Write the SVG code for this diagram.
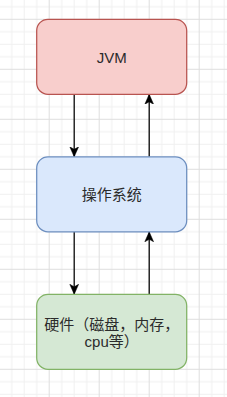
<svg xmlns="http://www.w3.org/2000/svg" width="227" height="397" viewBox="0 0 227 397">
  <defs>
    <pattern id="grid" width="50" height="50" patternUnits="userSpaceOnUse" x="-1.3" y="18.8">
      <rect x="0" y="0" width="50" height="50" fill="#ffffff"/>
      <g fill="#f0f0f0">
        <rect x="12.5" y="0" width="1" height="50"/>
        <rect x="25" y="0" width="1" height="50"/>
        <rect x="37.5" y="0" width="1" height="50"/>
        <rect x="0" y="12.5" width="50" height="1"/>
        <rect x="0" y="25" width="50" height="1"/>
        <rect x="0" y="37.5" width="50" height="1"/>
      </g>
      <g fill="#dedede">
        <rect x="0" y="0" width="1" height="50"/>
        <rect x="0" y="0" width="50" height="1"/>
      </g>
    </pattern>
    <marker id="arrow" viewBox="0 0 10 10" refX="10" refY="5" markerWidth="10" markerHeight="10" markerUnits="userSpaceOnUse" orient="auto">
      <path d="M10,5 L0,0.6 L2.5,5 L0,9.4 Z" fill="#000000" stroke="#000000" stroke-width="0.5"/>
    </marker>
    <style>
      .box { stroke-width: 1.25; }
      .red { fill: #f8cecc; stroke: #b85450; }
      .blue { fill: #dae8fc; stroke: #6c8ebf; }
      .green { fill: #d5e8d4; stroke: #82b366; }
      .label { font-family: "Liberation Sans", "Noto Sans CJK SC", sans-serif; font-size: 15px; fill: #2b2b2b; text-anchor: middle; }
      .conn { stroke: #000000; stroke-width: 1.25; fill: none; }
    </style>
  </defs>
  <rect x="0" y="0" width="227" height="397" fill="url(#grid)"/>

  <g id="connectors">
    <path class="conn" d="M74.2,94.3 L74.2,156.8" marker-end="url(#arrow)"/>
    <path class="conn" d="M149.2,156.8 L149.2,94.3" marker-end="url(#arrow)"/>
    <path class="conn" d="M74.2,231.8 L74.2,294.3" marker-end="url(#arrow)"/>
    <path class="conn" d="M149.2,294.3 L149.2,231.8" marker-end="url(#arrow)"/>
  </g>

  <g id="jvm">
    <rect class="box red" x="36.7" y="19.3" width="150" height="75" rx="11.25" ry="11.25"/>
    <text class="label" x="111.7" y="62.8">JVM</text>
  </g>

  <g id="os">
    <rect class="box blue" x="36.7" y="156.8" width="150" height="75" rx="11.25" ry="11.25"/>
    <text class="label" x="111.7" y="200.4">操作系统</text>
  </g>

  <g id="hardware">
    <rect class="box green" x="36.7" y="294.3" width="150" height="75" rx="11.25" ry="11.25"/>
    <text class="label" x="111.7" y="329.8">硬件（磁盘，内存，</text>
    <text class="label" x="111.7" y="347.3">cpu等）</text>
  </g>
</svg>
